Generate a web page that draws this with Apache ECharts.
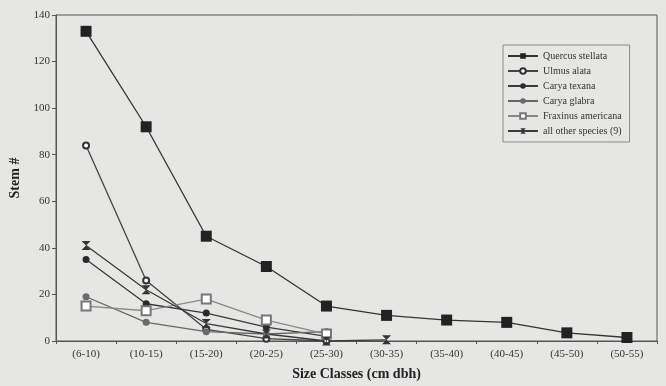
<!DOCTYPE html>
<html><head><meta charset="utf-8">
<script src="https://cdn.jsdelivr.net/npm/echarts@6/dist/echarts.min.js"></script>
<style>html,body{margin:0;padding:0;background:#e6e6e4;}#c{width:666px;height:386px;}</style>
</head><body><div id="c"></div>
<script>
const categories = ["(6-10)","(10-15)","(15-20)","(20-25)","(25-30)","(30-35)","(35-40)","(40-45)","(45-50)","(50-55)"];
const quercusStellata = [133, 92, 45, 32, 15, 11, 9, 8, 3.5, 1.5];
const ulmusAlata = [84, 26, 5, 1, 0];
const caryaTexana = [35, 16, 12, 6, 2];
const caryaGlabra = [19, 8, 4, 3, 4];
const fraxinusAmericana = [15, 13, 18, 9, 3];
const allOther = [41, 22, 7.5, 3, 0, 0.5];
const yTicks = [0, 20, 40, 60, 80, 100, 120, 140];

const serif = '"Liberation Serif", "DejaVu Serif", serif';
const hourglass = 'path://M0,0 L10,0 L0,10 L10,10 Z';

function mk(name, data, symbol, size, color, lineColor, bw) {
  return {
    name, type: 'line', data, symbol, symbolSize: size,
    lineStyle: { color: lineColor, width: 1.3 },
    itemStyle: { color: color, borderWidth: bw || 1 },
    z: 3
  };
}

const chart = echarts.init(document.getElementById('c'));
chart.setOption({
  backgroundColor: '#e6e6e4',
  animation: false,
  grid: { left: 55, right: 9, top: 15, bottom: 45, show: true, borderColor: '#555', borderWidth: 1, backgroundColor: 'transparent' },
  legend: {
    orient: 'vertical', left: 503, top: 45,
    itemWidth: 30, itemHeight: 7, itemGap: 5,
    textStyle: { fontFamily: serif, fontSize: 10, color: '#333' },
    borderColor: '#888', borderWidth: 1, padding: [6, 8, 6, 4],
    data: ['Quercus stellata','Ulmus alata','Carya texana','Carya glabra','Fraxinus americana','all other species (9)']
  },
  xAxis: {
    type: 'category', data: categories, boundaryGap: true,
    name: 'Size Classes (cm dbh)', nameLocation: 'middle', nameGap: 26,
    nameTextStyle: { fontFamily: serif, fontSize: 14, fontWeight: 'bold', color: '#222' },
    axisLine: { lineStyle: { color: '#555' } },
    axisTick: { show: true, length: 3, lineStyle: { color: '#555' } },
    axisLabel: { fontFamily: serif, fontSize: 11, color: '#333', margin: 8 },
    splitLine: { show: false }
  },
  yAxis: {
    type: 'value', min: yTicks[0], max: yTicks[yTicks.length - 1], interval: 20,
    name: 'Stem #', nameLocation: 'middle', nameGap: 34, nameRotate: 90,
    nameTextStyle: { fontFamily: serif, fontSize: 14, fontWeight: 'bold', color: '#222' },
    axisLine: { show: true, lineStyle: { color: '#555' } },
    axisTick: { show: true, length: 4, lineStyle: { color: '#555' } },
    axisLabel: { fontFamily: serif, fontSize: 11, color: '#333', margin: 6 },
    splitLine: { show: false }
  },
  series: [
    mk('Quercus stellata', quercusStellata, 'rect', 11, '#222', '#333'),
    mk('Ulmus alata', ulmusAlata, 'emptyCircle', 6, '#333', '#444', 1.3),
    mk('Carya texana', caryaTexana, 'circle', 7, '#2a2a2a', '#3a3a3a'),
    mk('Carya glabra', caryaGlabra, 'circle', 7, '#6a6a6a', '#666'),
    mk('Fraxinus americana', fraxinusAmericana, 'emptyRect', 9, '#777', '#888', 1),
    mk('all other species (9)', allOther, hourglass, 9, '#333', '#3a3a3a')
  ]
});
</script></body></html>
